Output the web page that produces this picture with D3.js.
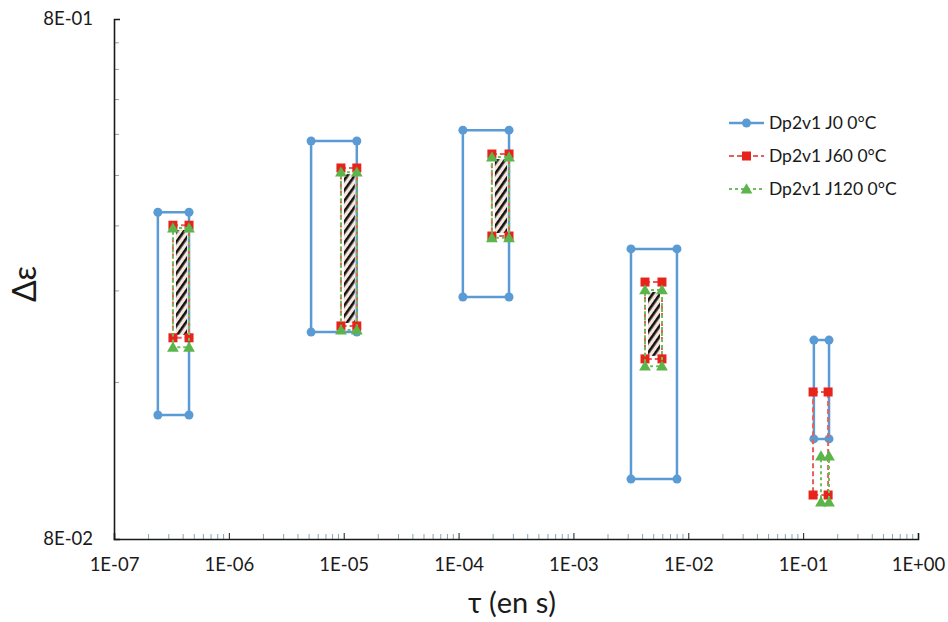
<!DOCTYPE html>
<html><head><meta charset="utf-8">
<script src="https://cdn.jsdelivr.net/npm/d3@7/dist/d3.min.js"></script>
<style>body{margin:0;background:#fff;}svg{display:block;font-family:Lato,"Open Sans",sans-serif;}</style>
</head><body><svg id="c" width="948" height="622"></svg>
<script>
// ---- data (rectangles: x from x1 to x2, y from y1 (top) to y2 (bottom)) ----
const seriesNames = ["Dp2v1 J0 0°C", "Dp2v1 J60 0°C", "Dp2v1 J120 0°C"];
// J0
const j0X1 = [2.41e-7, 5.2e-6, 1.09e-4, 3.17e-3, 0.124];
const j0X2 = [4.5e-7, 1.30e-5, 2.75e-4, 7.97e-3, 0.168];
const j0Y1 = [0.340, 0.466, 0.489, 0.289, 0.193];
const j0Y2 = [0.1385, 0.200, 0.2336, 0.1043, 0.1246];
// J60
const j60X1 = [3.26e-7, 9.46e-6, 1.95e-4, 4.2e-3, 0.122];
const j60X2 = [4.5e-7, 1.30e-5, 2.75e-4, 5.9e-3, 0.165];
const j60Y1 = [0.321, 0.4136, 0.440, 0.2496, 0.1534];
const j60Y2 = [0.195, 0.2055, 0.306, 0.1776, 0.0972];
// J120
const j120X1 = [3.26e-7, 9.46e-6, 1.95e-4, 4.2e-3, 0.143];
const j120X2 = [4.5e-7, 1.30e-5, 2.75e-4, 5.9e-3, 0.168];
const j120Y1 = [0.317, 0.406, 0.434, 0.241, 0.1155];
const j120Y2 = [0.187, 0.2018, 0.3036, 0.172, 0.0942];
// hatched zones (groups 0..3)
const hatchGroups = [0, 1, 2, 3];
// axis ticks
const xTickValues = [1e-7, 1e-6, 1e-5, 1e-4, 1e-3, 1e-2, 1e-1, 1];
const xTickLabels = ["1E-07", "1E-06", "1E-05", "1E-04", "1E-03", "1E-02", "1E-01", "1E+00"];
const yTickValues = [0.08, 0.8];
const yTickLabels = ["8E-02", "8E-01"];

// ---- drawing ----
const svg = d3.select("#c");
const L = 114, R = 918, T = 19, B = 539;
const x = d3.scaleLog().domain([1e-7, 1]).range([L, R]);
const y = d3.scaleLog().domain([0.08, 0.8]).range([B, T]);

const defs = svg.append("defs");
const pat = defs.append("pattern").attr("id", "hatch").attr("patternUnits", "userSpaceOnUse")
  .attr("width", 6).attr("height", 6).attr("patternTransform", "rotate(35)");
pat.append("rect").attr("width", 6).attr("height", 6).attr("fill", "#f7e6dc");
pat.append("rect").attr("x", 0).attr("width", 2.6).attr("height", 6).attr("fill", "#111");

// minor ticks x
const xMinor = [];
for (let e = -7; e < 0; e++) for (let k = 2; k <= 9; k++) xMinor.push(k * Math.pow(10, e));
svg.append("g").selectAll("line").data(xMinor).join("line")
  .attr("x1", d => x(d)).attr("x2", d => x(d)).attr("y1", B).attr("y2", B - 5)
  .attr("stroke", "#86a6b4").attr("stroke-width", 1);
// minor ticks y
const yMinor = [];
for (let k = 2; k <= 9; k++) yMinor.push(0.08 * k);
svg.append("g").selectAll("line").data(yMinor).join("line")
  .attr("x1", L).attr("x2", L + 5).attr("y1", d => y(d)).attr("y2", d => y(d))
  .attr("stroke", "#86a6b4").attr("stroke-width", 1);

// axes
const xAxis = d3.axisBottom(x).tickValues(xTickValues).tickSize(-6)
  .tickFormat((d, i) => xTickLabels[i]);
const gx = svg.append("g").attr("transform", `translate(0,${B})`).call(xAxis);
gx.select(".domain").attr("stroke", "#1a1a1a").attr("stroke-width", 1.6);
gx.selectAll(".tick line").attr("stroke", "#1a1a1a");
gx.selectAll(".tick text").attr("y", 19).attr("dy", "0.71em").attr("font-size", 18.5)
  .attr("fill", "#1a1a1a").attr("font-family", "Lato, sans-serif");

const yAxis = d3.axisLeft(y).tickValues(yTickValues).tickSize(-6)
  .tickFormat((d, i) => yTickLabels[i]);
const gy = svg.append("g").attr("transform", `translate(${L},0)`).call(yAxis);
gy.select(".domain").attr("stroke", "#1a1a1a").attr("stroke-width", 1.6);
gy.selectAll(".tick line").attr("stroke", "#1a1a1a");
gy.selectAll(".tick text").attr("x", -21).attr("font-size", 18.5)
  .attr("fill", "#1a1a1a").attr("font-family", "Lato, sans-serif");

// axis titles
svg.append("text").attr("x", 512).attr("y", 613).attr("text-anchor", "middle")
  .attr("font-size", 29).attr("fill", "#1a1a1a").text("τ (en s)");
svg.append("text").attr("transform", "translate(36,284) rotate(-90)").attr("text-anchor", "middle")
  .attr("font-size", 32).attr("fill", "#1a1a1a").text("Δε");

// build rectangles
function rects(X1, X2, Y1, Y2) {
  return X1.map((d, i) => ({x1: X1[i], x2: X2[i], y1: Y1[i], y2: Y2[i]}));
}
const series = [
  {name: seriesNames[0], data: rects(j0X1, j0X2, j0Y1, j0Y2), color: "#5b9bd5", lineColor: "#5b9bd5", dash: null, width: 2.5, marker: "circle"},
  {name: seriesNames[1], data: rects(j60X1, j60X2, j60Y1, j60Y2), color: "#e8231b", lineColor: "#e2615a", dash: "5,3", width: 2, marker: "square"},
  {name: seriesNames[2], data: rects(j120X1, j120X2, j120Y1, j120Y2), color: "#5cb54a", lineColor: "#6cbf5c", dash: "3,3", width: 2, marker: "triangle"}
];

const line = d3.line().x(p => x(p[0])).y(p => y(p[1]));
function corners(r) { return [[r.x1, r.y1], [r.x2, r.y1], [r.x2, r.y2], [r.x1, r.y2]]; }

function drawMarker(g, type, color, cx, cy) {
  if (type === "circle") g.append("circle").attr("cx", cx).attr("cy", cy).attr("r", 4.5).attr("fill", color);
  else if (type === "square") g.append("rect").attr("x", cx - 4.5).attr("y", cy - 4.5).attr("width", 9).attr("height", 9).attr("fill", color);
  else g.append("path").attr("d", d3.symbol(d3.symbolTriangle, 60)()).attr("transform", `translate(${cx},${cy + 1})`).attr("fill", color);
}

function drawSeries(s) {
  const g = svg.append("g");
  s.data.forEach(r => {
    const c = corners(r);
    g.append("path").attr("d", line(c.concat([c[0]]))).attr("fill", "none")
      .attr("stroke", s.lineColor).attr("stroke-width", s.width)
      .attr("stroke-dasharray", s.dash);
  });
  s.data.forEach(r => corners(r).forEach(p => drawMarker(g, s.marker, s.color, x(p[0]), y(p[1]))));
}
drawSeries(series[0]);

// hatched zones: intersection of J60 and J120
const hg = svg.append("g");
hatchGroups.forEach(i => {
  const a = series[1].data[i], b = series[2].data[i];
  const xa = Math.max(x(a.x1), x(b.x1)) + 3, xb = Math.min(x(a.x2), x(b.x2)) - 2;
  const ya = Math.max(y(a.y1), y(b.y1)) + 2, yb = Math.min(y(a.y2), y(b.y2)) - 3;
  hg.append("rect").attr("x", xa).attr("y", ya).attr("width", xb - xa).attr("height", yb - ya)
    .attr("fill", "url(#hatch)");
});
drawSeries(series[1]);
drawSeries(series[2]);

// legend
const lg = svg.append("g");
series.forEach((s, i) => {
  const ly = 123 + i * 33;
  lg.append("line").attr("x1", 729).attr("x2", 764).attr("y1", ly).attr("y2", ly)
    .attr("stroke", s.lineColor).attr("stroke-width", s.width).attr("stroke-dasharray", s.dash);
  drawMarker(lg, s.marker, s.color, 746.5, ly);
  lg.append("text").attr("x", 769).attr("y", ly).attr("dy", "0.35em").attr("font-size", 17.5)
    .attr("fill", "#1a1a1a").text(s.name);
});
</script></body></html>
